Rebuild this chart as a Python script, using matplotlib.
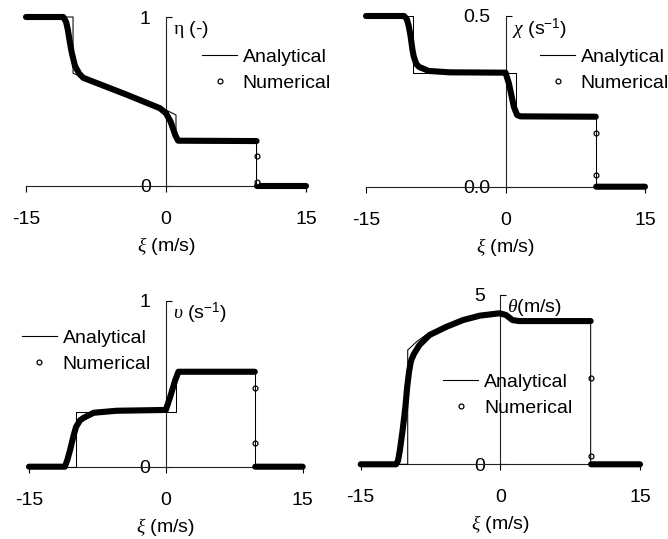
import numpy as np
import matplotlib
matplotlib.use('Agg')
import matplotlib.pyplot as plt
from matplotlib.lines import Line2D

plt.rcParams['font.family'] = ['Liberation Sans', 'DejaVu Sans']
plt.rcParams['mathtext.fontset'] = 'custom'
plt.rcParams['mathtext.rm'] = 'Liberation Serif'
plt.rcParams['mathtext.it'] = 'Liberation Serif:italic'
plt.rcParams['mathtext.sf'] = 'Liberation Sans'

nan = np.nan

# ---------------- data ----------------
xi_ticks = [-15, 0, 15]
xi_ticklabels = ['-15', '0', '15']

# eta (-)
eta_ana_xi = [-15, -9.96, -9.96, 0.0, 1.07, 1.07, 9.7, 9.7, 15]
eta_ana = [1.0, 1.0, 0.667, 0.45, 0.42, 0.265, 0.265, 0.0, 0.0]
eta_num_xi = [-15, -11.0, -10.7, -10.5, -10.3, -10.1, -9.75, -9.3, -8.86, -4.2,
              -0.64, 0.0, 0.5, 1.0, 1.3, 9.7, nan, 9.75, 15]
eta_num = [1.0, 1.0, 0.97, 0.92, 0.85, 0.79, 0.71, 0.665, 0.64, 0.54,
           0.46, 0.43, 0.38, 0.30, 0.268, 0.266, nan, 0.0, 0.0]
eta_shock_xi = [9.7, 9.7]
eta_shock = [0.178, 0.025]

# chi (s^-1)
chi_ana_xi = [-15, -9.97, -9.97, 1.08, 1.08, 9.7, 9.7, 15]
chi_ana = [0.5, 0.5, 0.333, 0.333, 0.205, 0.205, 0.0, 0.0]
chi_num_xi = [-15, -10.9, -10.6, -10.4, -10.2, -10.0, -9.86, -9.6, -9.3, -8.25,
              -6.0, 0.0, 0.36, 0.9, 1.25, 1.6, 9.7, nan, 9.75, 15]
chi_num = [0.5, 0.5, 0.49, 0.47, 0.44, 0.40, 0.381, 0.36, 0.351, 0.339,
           0.335, 0.334, 0.303, 0.234, 0.21, 0.206, 0.205, nan, 0.0, 0.0]
chi_shock_xi = [9.7, 9.7]
chi_shock = [0.156, 0.034]

# upsilon (s^-1)
ups_ana_xi = [-15, -9.87, -9.87, 1.13, 1.13, 9.75, 9.75, 15]
ups_ana = [0.0, 0.0, 0.331, 0.331, 0.572, 0.572, 0.0, 0.0]
ups_num_xi = [-15, -11.07, -10.8, -10.5, -10.1, -9.84, -9.4, -9.0, -7.9, -5.4,
              0.0, 0.47, 1.02, 1.38, 9.75, nan, 9.8, 15]
ups_num = [0.0, 0.0, 0.04, 0.10, 0.19, 0.24, 0.28, 0.295, 0.325, 0.337,
           0.342, 0.42, 0.52, 0.572, 0.572, nan, 0.0, 0.0]
ups_shock_xi = [9.75, 9.75]
ups_shock = [0.476, 0.145]

# theta (m/s)
th_ana_xi = [-15, -9.95, -9.95, -9.0, -8.0, -6.0, -4.0, -2.0, 0.0, 1.1, 9.7, 9.7, 15]
th_ana = [0.0, 0.0, 3.375, 3.62, 3.82, 4.07, 4.26, 4.40, 4.48, 4.24, 4.24, 0.0, 0.0]
th_num_xi = [-15, -11.2, -11.0, -10.8, -10.5, -10.2, -10.0, -9.8, -9.6, -9.3,
             -8.7, -7.6, -5.8, -4.0, -2.2, -0.1, 0.6, 1.3, 2.0, 9.7, nan, 9.75, 15]
th_num = [0.0, 0.0, 0.1, 0.4, 1.0, 1.7, 2.3, 2.75, 3.05, 3.25,
          3.52, 3.82, 4.06, 4.26, 4.39, 4.46, 4.41, 4.26, 4.23, 4.23, nan, 0.0, 0.0]
th_shock_xi = [9.7, 9.7]
th_shock = [2.54, 0.25]

# ---------------- figure ----------------
W, H = 668, 539
fig = plt.figure(figsize=(W / 100, H / 100), dpi=100)

FS = 14


def px_axes(left, top, right, bottom):
    return fig.add_axes([left / W, 1 - bottom / H, (right - left) / W, (bottom - top) / H])


def panel(box, ana_x, ana_y, num_x, num_y, sh_x, sh_y, ylim, yticks, yticklabels,
          ylabel, leg_xy):
    left, top, right, bottom = box
    ax = px_axes(left, top, right, bottom)
    ax.set_xlim(-15, 15)
    ax.set_ylim(*ylim)
    ax.patch.set_alpha(0)
    for s in ['top', 'right']:
        ax.spines[s].set_visible(False)
    ax.spines['left'].set_position(('data', 0))
    ax.spines['bottom'].set_position(('data', 0))
    for s in ['left', 'bottom']:
        ax.spines[s].set_linewidth(0.8)
        ax.spines[s].set_color('#222222')
    ax.set_xticks(xi_ticks)
    ax.set_xticklabels(xi_ticklabels)
    ax.set_yticks(yticks)
    ax.set_yticklabels(yticklabels)
    ax.tick_params(axis='x', direction='out', length=4, width=0.8, pad=14, labelsize=FS)
    ax.tick_params(axis='y', direction='in', length=4, width=0.8, pad=11, labelsize=FS)

    # numerical (dense markers -> thick band)
    ax.plot(num_x, num_y, color='black', lw=4.4, solid_capstyle='round',
            solid_joinstyle='round', clip_on=False, zorder=3)
    ax.plot(sh_x, sh_y, ls='none', marker='o', ms=3.5, mfc='white', mec='black',
            mew=0.9, clip_on=False, zorder=4)
    # analytical
    ax.plot(ana_x, ana_y, color='black', lw=0.75, clip_on=False, zorder=5)

    ax.set_xlabel(r'$\xi$ (m/s)', fontsize=FS, labelpad=5)
    ax.annotate(ylabel, xy=(0, ylim[1]), xycoords='data', xytext=(7, -13),
                textcoords='offset pixels', ha='left', va='center', fontsize=FS)

    handles = [Line2D([], [], color='black', lw=0.8),
               Line2D([], [], ls='none', marker='o', ms=3.5, mfc='white',
                      mec='black', mew=0.9)]
    lx, ly = leg_xy
    ax_w, ax_h = right - left, bottom - top
    anchor = ((lx - left) / ax_w, (bottom - (ly - 7)) / ax_h)
    ax.legend(handles, ['Analytical', 'Numerical'], loc='upper left',
              bbox_to_anchor=anchor, frameon=False, fontsize=FS,
              handlelength=1.8, handletextpad=0.3, borderpad=0,
              borderaxespad=0, labelspacing=0.45)
    return ax


panel((26, 17, 306, 186), eta_ana_xi, eta_ana, eta_num_xi, eta_num,
      eta_shock_xi, eta_shock, (0, 1), [0, 1], ['0', '1'],
      r'$\mathrm{\eta}$ (-)', (202, 55))
panel((366, 16, 645, 186.7), chi_ana_xi, chi_ana, chi_num_xi, chi_num,
      chi_shock_xi, chi_shock, (0, 0.5), [0, 0.5], ['0.0', '0.5'],
      r'$\chi$ (s$^{\mathsf{-1}}$)', (540, 55))
panel((29, 300.7, 302.7, 466.7), ups_ana_xi, ups_ana, ups_num_xi, ups_num,
      ups_shock_xi, ups_shock, (0, 1), [0, 1], ['0', '1'],
      r'$\upsilon$ (s$^{\mathsf{-1}}$)', (21.7, 336))
panel((360.7, 295, 640, 464.3), th_ana_xi, th_ana, th_num_xi, th_num,
      th_shock_xi, th_shock, (0, 5), [0, 5], ['0', '5'],
      r'$\theta$(m/s)', (443.3, 380))

fig.savefig('out.png', dpi=100)
